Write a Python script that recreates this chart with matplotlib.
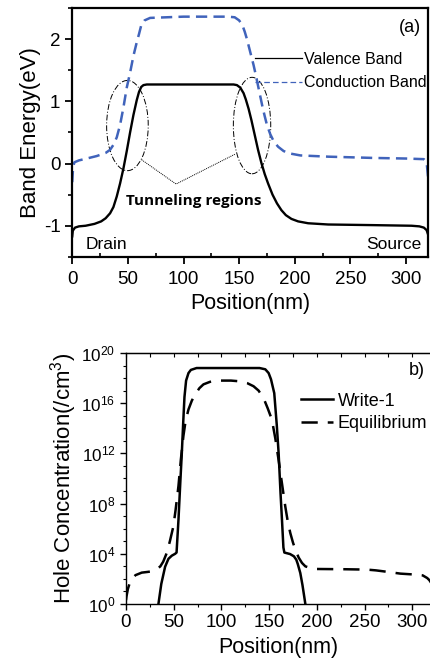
import numpy as np
import matplotlib
matplotlib.use("Agg")
from matplotlib import pyplot as plt
from matplotlib.patches import Ellipse
from matplotlib.ticker import MultipleLocator, LogFormatterMathtext, NullFormatter

plt.rcParams['font.family'] = ['Liberation Sans', 'DejaVu Sans']
plt.rcParams['mathtext.fontset'] = 'custom'
plt.rcParams['mathtext.rm'] = 'Liberation Sans'
plt.rcParams['axes.unicode_minus'] = False

# ---- panel (a): band diagram ----
vb_x = [0, 0.5, 2.5, 6, 12, 20, 26, 30, 34, 37, 40, 43, 46, 49, 52, 55, 58, 60, 62, 64, 67,
        100, 145, 148, 151, 154, 156, 158.5, 161, 164, 167, 170, 173, 176, 180, 184, 188,
        192, 197, 203, 212, 230, 270, 305, 312, 316, 318.5, 320]
vb_e = [-1.17, -1.08, -1.03, -1.01, -1.0, -0.97, -0.93, -0.88, -0.80, -0.70, -0.53, -0.32,
        -0.08, 0.20, 0.50, 0.78, 1.02, 1.15, 1.23, 1.26, 1.27, 1.27, 1.27, 1.26, 1.22, 1.13,
        1.03, 0.88, 0.70, 0.46, 0.22, 0.01, -0.17, -0.32, -0.50, -0.64, -0.75, -0.83, -0.89,
        -0.93, -0.96, -0.98, -0.99, -1.0, -1.01, -1.03, -1.07, -1.15]

cb_x = [0, 0.8, 2, 6, 13, 22, 30, 34, 37, 40, 43, 46, 49, 52, 55, 58, 60, 62, 65, 70, 100,
        140, 146, 150, 153, 155, 157, 159, 161, 163, 165, 167, 169, 171, 173, 175, 178, 181,
        185, 190, 196, 205, 230, 270, 300, 316, 318.5, 320]
cb_e = [-0.3, -0.05, 0.02, 0.05, 0.08, 0.12, 0.17, 0.22, 0.30, 0.42, 0.62, 0.90, 1.22, 1.46,
        1.73, 1.95, 2.08, 2.22, 2.30, 2.34, 2.36, 2.36, 2.35, 2.30, 2.22, 2.12, 2.00, 1.86,
        1.72, 1.58, 1.42, 1.25, 1.08, 0.91, 0.76, 0.62, 0.47, 0.36, 0.27, 0.20, 0.16, 0.13,
        0.11, 0.09, 0.08, 0.07, 0.02, -0.25]

# tunneling region marks (center x, center y, width, height)
ellipses = [(49.6, 0.61, 37.4, 1.45), (161.6, 0.61, 33.6, 1.55)]
pointer_x = [62.4, 93.3, 146.3]
pointer_e = [0.06, -0.33, 0.15]

# ---- panel (b): hole concentration (log10 values) ----
w1_x = [33, 34, 37, 41, 44.5, 48, 51.5, 53, 55, 57, 58.5, 60, 61.3, 63, 65.5, 68, 74, 100,
        140, 146, 149.5, 152, 155.4, 158, 160, 162, 163.5, 165, 166, 172, 176, 178.5, 180,
        182.7, 185, 188, 189]
w1_p = [-0.3, 0.0, 1.6, 2.97, 3.6, 3.85, 4.0, 4.1, 6.7, 9.8, 12.0, 14.5, 16.5, 17.8, 18.4,
        18.65, 18.8, 18.8, 18.8, 18.7, 18.4, 17.9, 16.8, 14.3, 12.0, 8.8, 6.7, 4.5, 4.1, 3.98,
        3.8, 3.53, 3.2, 2.47, 1.5, 0.0, -0.3]

eq_x = [0, 0.5, 2, 4, 6, 10, 16.5, 22, 27, 32, 36, 39, 42.7, 46, 49.7, 52, 55, 57.5, 60.2,
        62.5, 65.5, 69, 72.5, 77, 81.2, 88, 95.2, 110, 119.7, 127, 133.7, 139, 144.2, 148.5,
        152.9, 156.5, 159.9, 163.5, 166.9, 169.5, 172.2, 175, 177.5, 181, 184.5, 188, 193.2,
        200.2, 230, 252.7, 262, 270.2, 280, 287.7, 298, 305.2, 311, 315.7, 318, 320]
eq_p = [0.3, 0.6, 1.2, 1.7, 2.0, 2.3, 2.5, 2.55, 2.6, 2.75, 3.0, 3.37, 4.06, 5.0, 6.2, 7.5,
        9.4, 11.5, 13.4, 14.6, 15.5, 16.2, 16.7, 17.2, 17.5, 17.7, 17.8, 17.8, 17.74, 17.6,
        17.35, 17.0, 16.4, 15.6, 14.7, 13.2, 11.5, 9.6, 7.8, 6.6, 5.66, 4.9, 4.33, 3.7, 3.27,
        3.0, 2.87, 2.79, 2.77, 2.74, 2.68, 2.6, 2.5, 2.42, 2.37, 2.34, 2.28, 2.07, 1.9, 1.67]

blue = '#4063bb'

fig = plt.figure(figsize=(4.3, 6.62), dpi=100)

# panel (a)
ax1 = fig.add_axes([0.168, 0.612, 0.828, 0.376])
ax1.plot(vb_x, vb_e, color='black', lw=1.7, label='Valence Band')
ax1.plot(cb_x, cb_e, color=blue, lw=1.8, linestyle=(0, (4.5, 2.5)), label='Conduction Band')
for cx, cy, w, h in ellipses:
    ax1.add_patch(Ellipse((cx, cy), w, h, fill=False, ec='black', lw=0.7,
                          linestyle=(0, (6, 2, 1, 2))))
ax1.plot(pointer_x, pointer_e, color='black', lw=0.7, linestyle=(0, (1, 1)))
ax1.text(108.8, -0.6, 'Tunneling regions', family='Open Sans', fontweight='bold',
         fontsize=11, ha='center', va='center')
ax1.text(0.037, 0.03, 'Drain', transform=ax1.transAxes, fontsize=12.5, va='baseline')
ax1.text(0.98, 0.03, 'Source', transform=ax1.transAxes, fontsize=12.5, va='baseline', ha='right')
ax1.text(0.98, 0.905, '(a)', transform=ax1.transAxes, fontsize=13, va='baseline', ha='right')
ax1.set_xlim(0, 320)
ax1.set_ylim(-1.5, 2.5)
ax1.xaxis.set_major_locator(MultipleLocator(50))
ax1.xaxis.set_minor_locator(MultipleLocator(25))
ax1.yaxis.set_major_locator(MultipleLocator(1))
ax1.yaxis.set_minor_locator(MultipleLocator(0.5))
ax1.tick_params(which='major', direction='out', length=5, width=1.3, labelsize=13.5)
ax1.tick_params(which='minor', direction='out', length=3, width=1.2)
ax1.tick_params(axis='x', which='minor', direction='in')
ax1.tick_params(axis='x', which='major', pad=5)
for s in ax1.spines.values():
    s.set_linewidth(1.6)
ax1.set_xlabel('Position(nm)', fontsize=15.5, labelpad=4)
ax1.set_ylabel('Band Energy(eV)', fontsize=16, labelpad=2)
leg1 = ax1.legend(loc='upper left', bbox_to_anchor=(0.514, 0.825), frameon=False,
                  fontsize=11.5, handlelength=2.9, handletextpad=0.15, borderpad=0,
                  borderaxespad=0, labelspacing=0.55)
for ln in leg1.get_lines():
    ln.set_linewidth(0.9)

# panel (b)
ax2 = fig.add_axes([0.293, 0.0876, 0.71, 0.3792])
ax2.plot(w1_x, 10.0 ** np.array(w1_p), color='black', lw=1.8, label='Write-1')
ax2.plot(eq_x, 10.0 ** np.array(eq_p), color='black', lw=1.8, linestyle=(0, (6.5, 4)),
         label='Equilibrium')
ax2.set_yscale('log')
ax2.set_xlim(0, 320)
ax2.set_ylim(1, 1e20)
ax2.xaxis.set_major_locator(MultipleLocator(50))
ax2.xaxis.set_minor_locator(MultipleLocator(25))
ax2.set_yticks([10.0 ** k for k in range(0, 21, 4)])
ax2.set_yticks([10.0 ** k for k in range(0, 21) if k % 4], minor=True)
ax2.yaxis.set_major_formatter(LogFormatterMathtext())
ax2.yaxis.set_minor_formatter(NullFormatter())
ax2.tick_params(which='major', direction='out', length=4, width=1.0, labelsize=13.5)
ax2.tick_params(axis='y', which='major', labelsize=12.3)
ax2.tick_params(which='minor', direction='out', length=2.5, width=0.8)
top = ax2.secondary_xaxis('top')
top.xaxis.set_major_locator(MultipleLocator(25))
top.tick_params(direction='in', length=3, width=0.8, labeltop=False)
for s in ax2.spines.values():
    s.set_linewidth(1.0)
ax2.text(0.98, 0.912, 'b)', transform=ax2.transAxes, fontsize=13, va='baseline', ha='right')
ax2.set_xlabel('Position(nm)', fontsize=15.5, labelpad=4)
ax2.set_ylabel('Hole Concentration(/cm$^3$)', fontsize=16, labelpad=2)
ax2.legend(loc='upper left', bbox_to_anchor=(0.572, 0.842), frameon=False, fontsize=13,
           handlelength=1.8, handletextpad=0.25, borderpad=0, borderaxespad=0,
           labelspacing=0.3)

fig.savefig('out.png', dpi=100)
